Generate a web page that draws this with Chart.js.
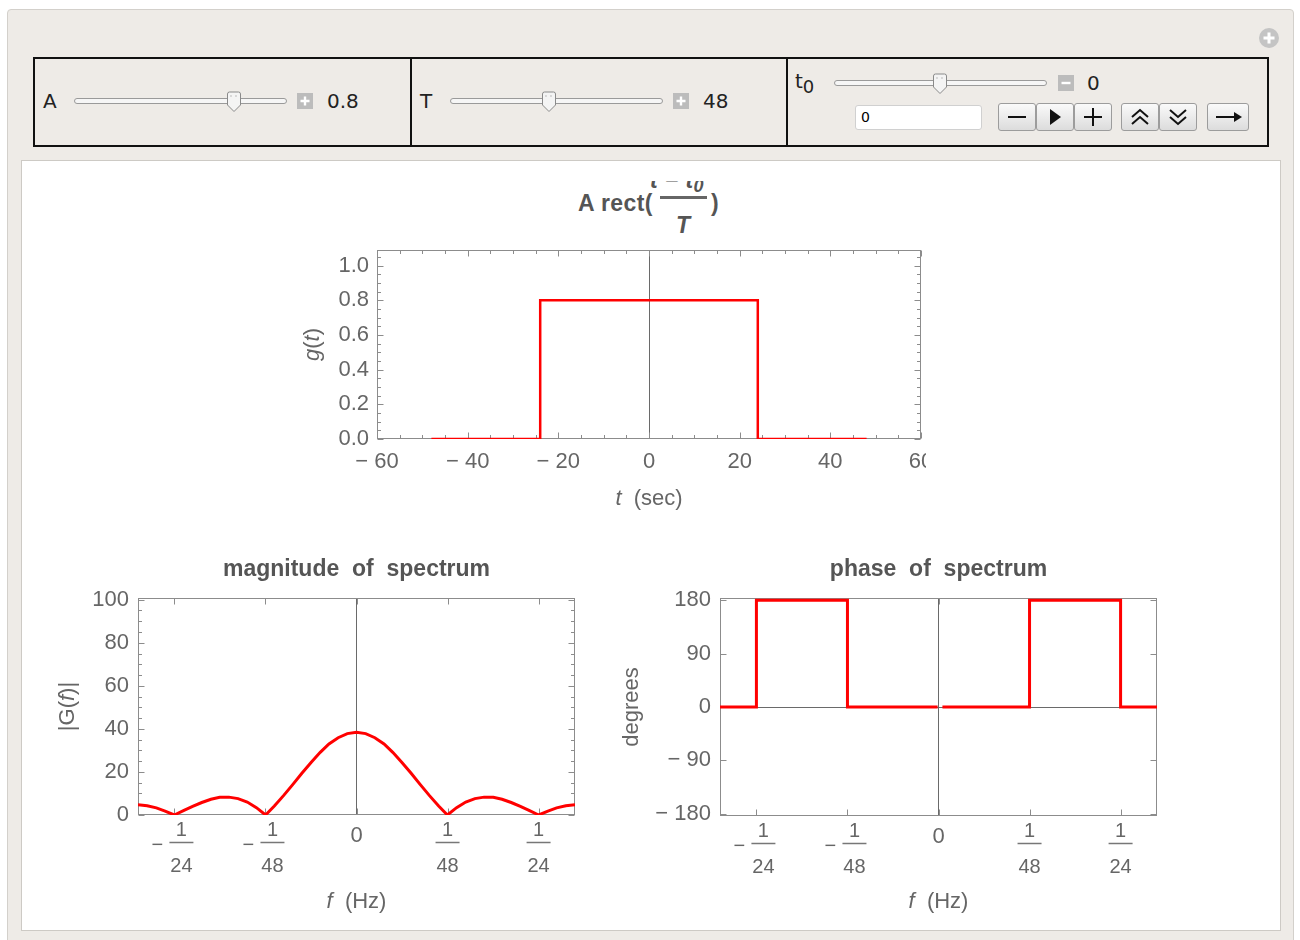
<!DOCTYPE html>
<html>
<head>
<meta charset="utf-8">
<script src="https://cdn.jsdelivr.net/npm/chart.js@4.4.1/dist/chart.umd.min.js"></script>
<style>
body { margin: 0; width: 1300px; height: 940px; overflow: hidden; background: #fff; font-family: "DejaVu Sans", sans-serif; }
.abs { position: absolute; }
#panel { left: 7px; top: 9px; width: 1287px; height: 945px; background: #eeebe7; border: 1px solid #d3d0cb; border-radius: 4px; box-sizing: border-box; }
#ctrl { left: 33px; top: 57px; width: 1236px; height: 90px; border: 2px solid #111; box-sizing: border-box; }
.vline { top: 57px; width: 2px; height: 90px; background: #111; }
.lbl { font-size: 20px; line-height: 24px; color: #222; }
.track { height: 6px; border: 1px solid #9a9a9a; border-radius: 4px; background: #f6f6f6; box-sizing: border-box; }
.sq { width: 16px; height: 16px; background: #bcbcbc; }
.btn { top: 103px; height: 28px; border: 1px solid #9c9c9c; border-radius: 3px; box-sizing: border-box; background: linear-gradient(#fafafa, #dcdcdc); }
#white { left: 21px; top: 160px; width: 1260px; height: 771px; background: #fff; border: 1px solid #cdcac5; box-sizing: border-box; }
#ttl { left: 540px; top: 181px; width: 220px; height: 60px; overflow: hidden; color: #555; font: bold 23px "Liberation Sans", sans-serif; letter-spacing: 0.4px; }
#ttl span { position: absolute; line-height: 24px; white-space: pre; }
canvas { position: absolute; }
</style>
</head>
<body>
<div id="panel" class="abs"></div>
<div class="abs" style="left:1259px;top:28px;width:20px;height:20px;border-radius:50%;background:#c4c4c4">
  <svg width="20" height="20"><path d="M10 4.5V15.5M4.5 10H15.5" stroke="#fff" stroke-width="3"/></svg>
</div>

<div id="ctrl" class="abs"></div>
<div class="abs vline" style="left:410px"></div>
<div class="abs vline" style="left:786px"></div>

<!-- A -->
<div class="abs lbl" style="left:43px;top:89px">A</div>
<div class="abs track" style="left:74px;top:98px;width:213px"></div>
<svg class="abs" style="left:226px;top:91px" width="16" height="22"><path d="M1.5 3Q1.5 1 3.5 1H12.5Q14.5 1 14.5 3V14L8 20.5L1.5 14Z" fill="#f4f4f4" stroke="#8a8a8a"/><path d="M5 4V6M10 4V6" stroke="#bbb"/></svg>
<div class="abs sq" style="left:297px;top:93px"><svg width="16" height="16"><path d="M8 3.5V12.5M3.5 8H12.5" stroke="#fff" stroke-width="2.4"/></svg></div>
<div class="abs lbl" style="left:327px;top:89px">0.8</div>

<!-- T -->
<div class="abs lbl" style="left:420px;top:89px">T</div>
<div class="abs track" style="left:450px;top:98px;width:213px"></div>
<svg class="abs" style="left:541px;top:91px" width="16" height="22"><path d="M1.5 3Q1.5 1 3.5 1H12.5Q14.5 1 14.5 3V14L8 20.5L1.5 14Z" fill="#f4f4f4" stroke="#8a8a8a"/><path d="M5 4V6M10 4V6" stroke="#bbb"/></svg>
<div class="abs sq" style="left:673px;top:93px"><svg width="16" height="16"><path d="M8 3.5V12.5M3.5 8H12.5" stroke="#fff" stroke-width="2.4"/></svg></div>
<div class="abs lbl" style="left:703px;top:89px">48</div>

<!-- t0 -->
<div class="abs lbl" style="left:795px;top:69px">t<span style="font-size:18px;position:relative;top:5px">0</span></div>
<div class="abs track" style="left:834px;top:80px;width:213px"></div>
<svg class="abs" style="left:932px;top:73px" width="16" height="22"><path d="M1.5 3Q1.5 1 3.5 1H12.5Q14.5 1 14.5 3V14L8 20.5L1.5 14Z" fill="#f4f4f4" stroke="#8a8a8a"/><path d="M5 4V6M10 4V6" stroke="#bbb"/></svg>
<div class="abs sq" style="left:1058px;top:75px"><svg width="16" height="16"><path d="M3.5 8H12.5" stroke="#fff" stroke-width="2.4"/></svg></div>
<div class="abs lbl" style="left:1087px;top:71px">0</div>
<div class="abs" style="left:855px;top:105px;width:127px;height:25px;background:#fff;border:1px solid #d0d0d0;border-radius:3px;box-sizing:border-box;font-size:14px;line-height:23px;padding-left:5px">0</div>
<div class="abs btn" style="left:998px;width:38px"><svg width="36" height="26"><path d="M9 13H27" stroke="#111" stroke-width="2"/></svg></div>
<div class="abs btn" style="left:1036px;width:38px"><svg width="36" height="26"><path d="M13 5L24 13L13 21Z" fill="#111"/></svg></div>
<div class="abs btn" style="left:1074px;width:38px"><svg width="36" height="26"><path d="M9 13H27M18 4V22" stroke="#111" stroke-width="2"/></svg></div>
<div class="abs btn" style="left:1121px;width:38px"><svg width="36" height="26"><path d="M10 13L18 6L26 13M10 20L18 13L26 20" fill="none" stroke="#111" stroke-width="2"/></svg></div>
<div class="abs btn" style="left:1159px;width:38px"><svg width="36" height="26"><path d="M10 6L18 13L26 6M10 13L18 20L26 13" fill="none" stroke="#111" stroke-width="2"/></svg></div>
<div class="abs btn" style="left:1207px;width:42px"><svg width="40" height="26"><path d="M8 13H28" stroke="#111" stroke-width="2"/><path d="M26 8L34 13L26 18Z" fill="#111"/></svg></div>

<div id="white" class="abs"></div>

<div id="ttl" class="abs">
  <span style="left:38px;top:10px">A rect(</span>
  <span style="left:110px;top:-13px;font-style:italic">t − t<span style="position:relative;top:4px;font-size:18px">0</span></span>
  <div class="abs" style="left:120px;top:15px;width:47px;height:2.5px;background:#666"></div>
  <span style="left:136px;top:32px;font-style:italic">T</span>
  <span style="left:171px;top:10px">)</span>
</div>

<canvas id="rectChart" width="646" height="280" style="left:280px;top:240px"></canvas>
<canvas id="magChart" width="560" height="370" style="left:40px;top:550px"></canvas>
<canvas id="phaseChart" width="570" height="370" style="left:610px;top:550px"></canvas>

<script>
// time signal g(t)
const tSec = [-48, -24, -24, 24, 24, 48];
const gVals = [0, 0, 0.8, 0.8, 0, 0];

// |G(f)|
const fHz = [-0.05, -0.0479, -0.0458, -0.0438, -0.0417, -0.0396, -0.0375, -0.0354, -0.0333, -0.0313,
    -0.0292, -0.0271, -0.025, -0.0229, -0.0208, -0.0188, -0.0167, -0.0146, -0.0125, -0.0104,
    -0.0083, -0.0063, -0.0042, -0.0021, 0, 0.0021, 0.0042, 0.0063, 0.0083, 0.0104,
    0.0125, 0.0146, 0.0167, 0.0188, 0.0208, 0.0229, 0.025, 0.0271, 0.0292, 0.0313,
    0.0333, 0.0354, 0.0375, 0.0396, 0.0417, 0.0438, 0.0458, 0.0479, 0.05];
const magVals = [4.8, 4.3, 3.3, 1.8, 0, 2.0, 4.0, 5.8, 7.3, 8.2,
    8.3, 7.6, 6.0, 3.4, 0, 4.2, 9.0, 14.1, 19.4, 24.4,
    29.1, 33.0, 35.9, 37.8, 38.4, 37.8, 35.9, 33.0, 29.1, 24.4,
    19.4, 14.1, 9.0, 4.2, 0, 3.4, 6.0, 7.6, 8.3, 8.2,
    7.3, 5.8, 4.0, 2.0, 0, 1.8, 3.3, 4.3, 4.8];

// phase in degrees (null = gap at f = 0)
const phaseF = [-0.05, -1 / 24, -1 / 24, -1 / 48, -1 / 48, -0.0002, 0.0004, 0.0009, 1 / 48, 1 / 48, 1 / 24, 1 / 24, 0.05];
const phaseDeg = [0, 0, 180, 180, 0, 0, null, 0, 0, 180, 180, 0, 0];
const phaseTicks = [-180, -90, 0, 90, 180];

// frequency tick marks
const fTicks = [-1 / 24, -1 / 48, 0, 1 / 48, 1 / 24];
const fTickLabels = ["-1/24", "-1/48", "0", "1/48", "1/24"];

const FONT = '"Liberation Sans", Arial, sans-serif';
const LABEL = "#666";

const toXY = (xs, ys) => xs.map((x, i) => ({x: x, y: ys[i]}));
const minus = (v) => v < 0 ? "\u2212 " + Math.abs(v) : String(v);

// Mathematica-like frame with inward ticks on all four sides
const mmaFrame = {
    id: "mmaFrame",
    beforeDatasetsDraw(chart, args, opts) {
        const {ctx, chartArea: a, scales: {x, y}} = chart;
        ctx.save();
        ctx.strokeStyle = "#8c8c8c";
        ctx.lineWidth = 1;
        const L = Math.round(a.left) + 0.5, R = Math.round(a.right) - 0.5;
        const T = Math.round(a.top) + 0.5, B = Math.round(a.bottom) - 0.5;
        ctx.strokeRect(L, T, R - L, B - T);
        const minors = (sc, step) => {
            const out = [];
            if (!step) return out;
            for (let v = Math.ceil(sc.min / step) * step; v <= sc.max + 1e-9; v += step) {
                if (!sc.ticks.some(t => Math.abs(t.value - v) < step / 10)) out.push(v);
            }
            return out;
        };
        ctx.beginPath();
        const xMark = (v, len) => {
            const p = Math.round(x.getPixelForValue(v)) + 0.5;
            ctx.moveTo(p, B); ctx.lineTo(p, B - len);
            ctx.moveTo(p, T); ctx.lineTo(p, T + len);
        };
        const yMark = (v, len) => {
            const p = Math.round(y.getPixelForValue(v)) + 0.5;
            ctx.moveTo(L, p); ctx.lineTo(L + len, p);
            ctx.moveTo(R, p); ctx.lineTo(R - len, p);
        };
        x.ticks.forEach(t => xMark(t.value, 6));
        y.ticks.forEach(t => yMark(t.value, 6));
        minors(x, opts.xMinor).forEach(v => xMark(v, 3.5));
        minors(y, opts.yMinor).forEach(v => yMark(v, 3.5));
        ctx.stroke();
        ctx.restore();
    }
};

// stacked fraction tick labels
const fracTicks = {
    id: "fracTicks",
    afterDraw(chart, args, opts) {
        if (!opts.values) return;
        const {ctx, chartArea} = chart;
        const sx = chart.scales.x, b = chartArea.bottom;
        ctx.save();
        ctx.fillStyle = LABEL;
        ctx.strokeStyle = "#777";
        ctx.textAlign = "center";
        ctx.textBaseline = "middle";
        opts.values.forEach((v, k) => {
            const lab = opts.labels[k];
            const px = sx.getPixelForValue(v);
            if (lab.indexOf("/") < 0) {
                ctx.font = "22px " + FONT;
                ctx.fillText(lab, px, b + 21);
                return;
            }
            const neg = lab[0] === "-";
            const parts = lab.replace("-", "").split("/");
            const cx = neg ? px + 7 : px;
            ctx.font = "20px " + FONT;
            ctx.fillText(parts[0], cx, b + 15);
            ctx.fillText(parts[1], cx, b + 51);
            ctx.lineWidth = 1.5;
            ctx.beginPath();
            ctx.moveTo(cx - 12, b + 27.5);
            ctx.lineTo(cx + 12, b + 27.5);
            ctx.stroke();
            if (neg) ctx.fillText("\u2212", px - 17, b + 30);
        });
        ctx.restore();
    }
};

// axis titles with italic variables
const richTitles = {
    id: "richTitles",
    afterDraw(chart, args, opts) {
        const {ctx, chartArea: a} = chart;
        (opts.items || []).forEach(it => {
            ctx.save();
            ctx.fillStyle = LABEL;
            ctx.textBaseline = "middle";
            ctx.textAlign = "left";
            ctx.translate(it.x !== undefined ? it.x : (a.left + a.right) / 2,
                it.y !== undefined ? it.y : (a.top + a.bottom) / 2);
            if (it.rotate) ctx.rotate(-Math.PI / 2);
            const fonts = it.parts.map(p => (p.i ? "italic " : "") + "22px " + FONT);
            let w = 0;
            const ws = it.parts.map((p, k) => {
                ctx.font = fonts[k];
                const m = ctx.measureText(p.t).width;
                w += m;
                return m;
            });
            let cx = -w / 2;
            it.parts.forEach((p, k) => {
                ctx.font = fonts[k];
                ctx.fillText(p.t, cx, 0);
                cx += ws[k];
            });
            ctx.restore();
        });
    }
};

const zeroLine = (c) => c.tick && Math.abs(c.tick.value) < 1e-9 ? "#6a6a6a" : "rgba(0,0,0,0)";

function fixX(h) {
    return function(s) {
        s.height = h;
        s.paddingLeft = 0;
        s.paddingRight = 0;
    };
}
function fixY(w) {
    return function(s) {
        s.width = w;
        s.paddingTop = 0;
        s.paddingBottom = 0;
    };
}

function baseOptions() {
    return {
        responsive: false,
        animation: false,
        events: [],
        elements: {point: {radius: 0}},
        plugins: {legend: {display: false}, tooltip: {enabled: false}},
    };
}

const titleFont = {family: FONT, size: 23, weight: "bold"};

//rect chart
let rectOptions = baseOptions();
rectOptions.layout = {padding: {left: 0, right: 5, top: 10, bottom: 0}};
rectOptions.scales = {
    x: {
        type: "linear", min: -60, max: 60,
        ticks: {stepSize: 20, includeBounds: false, padding: 10, maxRotation: 0, color: LABEL,
            font: {family: FONT, size: 22}, callback: minus},
        grid: {color: zeroLine, drawTicks: false},
        border: {display: false},
        afterFit: fixX(81),
    },
    y: {
        min: 0, max: 1.09,
        ticks: {stepSize: 0.2, includeBounds: false, padding: 8, color: LABEL,
            font: {family: FONT, size: 22}, callback: v => v.toFixed(1)},
        grid: {display: false, drawTicks: false},
        border: {display: false},
        afterFit: fixY(97),
    },
};
rectOptions.plugins.mmaFrame = {xMinor: 5, yMinor: 0.05};
rectOptions.plugins.richTitles = {items: [
    {x: 33, rotate: true, parts: [{t: "g", i: 1}, {t: "("}, {t: "t", i: 1}, {t: ")"}]},
    {y: 259, parts: [{t: "t", i: 1}, {t: "  (sec)"}]},
]};

new Chart(document.getElementById("rectChart"), {
    type: "line",
    data: {datasets: [{data: toXY(tSec, gVals), borderColor: "#ff0000", borderWidth: 2.5, tension: 0}]},
    options: rectOptions,
    plugins: [mmaFrame, richTitles],
});

//magnitude chart
let magOptions = baseOptions();
magOptions.layout = {padding: {left: 0, right: 25, top: 0, bottom: 0}};
magOptions.plugins.title = {
    display: true, text: "magnitude  of  spectrum", color: "#555", fullSize: false,
    font: titleFont, padding: {top: 6, bottom: 14.4},
};
magOptions.scales = {
    x: {
        type: "linear", min: -0.05, max: 0.05,
        afterBuildTicks: s => { s.ticks = fTicks.map(v => ({value: v})); },
        ticks: {display: false},
        grid: {color: zeroLine, drawTicks: false},
        border: {display: false},
        afterFit: fixX(105),
    },
    y: {
        min: 0, max: 100.8,
        ticks: {stepSize: 20, includeBounds: false, padding: 9, color: LABEL,
            font: {family: FONT, size: 22}},
        grid: {display: false, drawTicks: false},
        border: {display: false},
        afterFit: fixY(98),
    },
};
magOptions.plugins.mmaFrame = {yMinor: 5};
magOptions.plugins.fracTicks = {values: fTicks, labels: fTickLabels};
magOptions.plugins.richTitles = {items: [
    {x: 28, rotate: true, parts: [{t: "|G("}, {t: "f", i: 1}, {t: ")|"}]},
    {y: 352, parts: [{t: "f", i: 1}, {t: "  (Hz)"}]},
]};

new Chart(document.getElementById("magChart"), {
    type: "line",
    data: {datasets: [{data: toXY(fHz, magVals), borderColor: "#ff0000", borderWidth: 3, tension: 0}]},
    options: magOptions,
    plugins: [mmaFrame, fracTicks, richTitles],
});

//phase chart
let phaseOptions = baseOptions();
phaseOptions.layout = {padding: {left: 0, right: 23, top: 0, bottom: 0}};
phaseOptions.plugins.title = {
    display: true, text: "phase  of  spectrum", color: "#555", fullSize: false,
    font: titleFont, padding: {top: 6, bottom: 14.4},
};
phaseOptions.scales = {
    x: {
        type: "linear", min: -0.05, max: 0.05,
        afterBuildTicks: s => { s.ticks = fTicks.map(v => ({value: v})); },
        ticks: {display: false},
        grid: {color: zeroLine, drawTicks: false},
        border: {display: false},
        afterFit: fixX(104),
    },
    y: {
        min: -184, max: 184,
        afterBuildTicks: s => { s.ticks = phaseTicks.map(v => ({value: v})); },
        ticks: {padding: 9, color: LABEL, font: {family: FONT, size: 22}, callback: minus},
        grid: {color: zeroLine, drawTicks: false},
        border: {display: false},
        afterFit: fixY(110),
    },
};
phaseOptions.plugins.mmaFrame = {};
phaseOptions.plugins.fracTicks = {values: fTicks, labels: fTickLabels};
phaseOptions.plugins.richTitles = {items: [
    {x: 22, rotate: true, parts: [{t: "degrees"}]},
    {y: 352, parts: [{t: "f", i: 1}, {t: "  (Hz)"}]},
]};

new Chart(document.getElementById("phaseChart"), {
    type: "line",
    data: {datasets: [{data: toXY(phaseF, phaseDeg), borderColor: "#ff0000", borderWidth: 3, tension: 0, spanGaps: false}]},
    options: phaseOptions,
    plugins: [mmaFrame, fracTicks, richTitles],
});
</script>
</body>
</html>
